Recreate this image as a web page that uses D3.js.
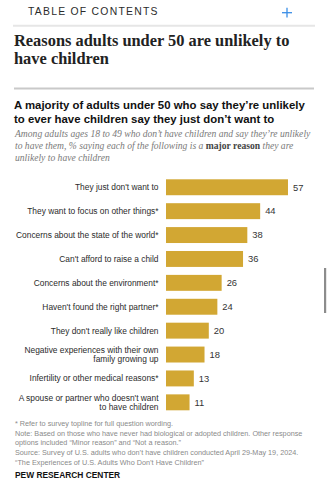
<!DOCTYPE html>
<html>
<head>
<meta charset="utf-8">
<script src="https://cdn.jsdelivr.net/npm/d3@7"></script>
<style>
  html, body { margin: 0; padding: 0; background: #fff; }
  svg { display: block; }
</style>
</head>
<body>
<svg id="chart"></svg>
<script>
// Reasons, top to bottom (line breaks where the label wraps)
const reasons = [
  "They just don't want to",
  "They want to focus on other things*",
  "Concerns about the state of the world*",
  "Can't afford to raise a child",
  "Concerns about the environment*",
  "Haven't found the right partner*",
  "They don't really like children",
  "Negative experiences with their own\nfamily growing up",
  "Infertility or other medical reasons*",
  "A spouse or partner who doesn't want\nto have children"
];

// % saying each is a major reason
const majorReason = [57, 44, 38, 36, 26, 24, 20, 18, 13, 11];

const titleLines = ["Reasons adults under 50 are unlikely to", "have children"];
const chartTitle = [
  "A majority of adults under 50 who say they\u2019re unlikely",
  "to ever have children say they just don\u2019t want to"
];
const footLines = [
  "* Refer to survey topline for full question wording.",
  "Note: Based on those who have never had biological or adopted children. Other response",
  "options included \u201cMinor reason\u201d and \u201cNot a reason.\u201d",
  "Source: Survey of U.S. adults who don\u2019t have children conducted April 29-May 19, 2024.",
  "\u201cThe Experiences of U.S. Adults Who Don\u2019t Have Children\u201d"
];

const W = 329, H = 485;
const GOLD = '#d2a733';
const SANS = "'Liberation Sans', Arial, sans-serif";
const SERIF = "'Liberation Serif', 'DejaVu Serif', serif";

const svg = d3.select('#chart').attr('width', W).attr('height', H);
svg.append('rect').attr('width', W).attr('height', H).attr('fill', '#fff');

// Page header: table of contents bar
svg.append('text')
  .attr('x', 28).attr('y', 15.2)
  .attr('font-family', SANS).attr('font-size', 10.4)
  .attr('letter-spacing', 1.25).attr('fill', '#2b2b2b')
  .text('TABLE OF CONTENTS');

const plus = svg.append('g').attr('stroke', '#3a8ee6').attr('stroke-width', 1.3);
plus.append('line').attr('x1', 282).attr('x2', 292).attr('y1', 12.7).attr('y2', 12.7);
plus.append('line').attr('x1', 287).attr('x2', 287).attr('y1', 7.8).attr('y2', 17.6);

svg.append('line').attr('x1', 13).attr('x2', 315).attr('y1', 25.8).attr('y2', 25.8)
  .attr('stroke', '#e6e6e6').attr('stroke-width', 2);

// Section title
svg.append('g').selectAll('text').data(titleLines).join('text')
  .attr('x', 14).attr('y', (d, i) => 46.3 + i * 18)
  .attr('font-family', SERIF).attr('font-size', 16.4).attr('font-weight', 'bold')
  .attr('fill', '#222')
  .text(d => d);

svg.append('line').attr('x1', 14).attr('x2', 314).attr('y1', 88.4).attr('y2', 88.4)
  .attr('stroke', '#c9c9c9').attr('stroke-width', 2);

// Chart title and subtitle
svg.append('g').selectAll('text').data(chartTitle).join('text')
  .attr('x', 14).attr('y', (d, i) => 109.3 + i * 13.4)
  .attr('font-family', SANS).attr('font-size', 11.4).attr('font-weight', 'bold')
  .attr('fill', '#111')
  .text(d => d);

const sub = svg.append('text')
  .attr('font-family', SERIF).attr('font-size', 9.6).attr('font-style', 'italic')
  .attr('fill', '#7a7a7a');
sub.append('tspan').attr('x', 15).attr('y', 137.3)
  .text('Among adults ages 18 to 49 who don\u2019t have children and say they\u2019re unlikely');
const sub2 = sub.append('tspan').attr('x', 15).attr('y', 149.4);
sub2.append('tspan').text('to have them, % saying each of the following is a ');
sub2.append('tspan').attr('font-weight', 'bold').attr('font-style', 'normal').attr('fill', '#444').text('major reason');
sub2.append('tspan').text(' they are');
sub.append('tspan').attr('x', 15).attr('y', 161.2).text('unlikely to have children');

// Bars
const x = d3.scaleLinear().domain([0, 100]).range([166, 380]);
const y = d3.scaleBand().domain(reasons).range([179.3, 410.3]).paddingInner(1 / 3).paddingOuter(0);

const rows = svg.append('g').selectAll('g')
  .data(reasons.map((r, i) => ({ reason: r, value: majorReason[i] })))
  .join('g');

rows.append('rect')
  .attr('x', x(0))
  .attr('y', d => y(d.reason))
  .attr('width', d => x(d.value) - x(0))
  .attr('height', y.bandwidth())
  .attr('fill', GOLD);

rows.append('text')
  .attr('x', d => x(d.value) + 5)
  .attr('y', d => y(d.reason) + y.bandwidth() / 2)
  .attr('dy', '0.35em')
  .attr('font-family', SANS).attr('font-size', 9.4).attr('fill', '#333')
  .text(d => d.value);

// Category labels, right aligned against the bars
rows.each(function (d) {
  const lines = d.reason.split('\n');
  const cy = y(d.reason) + y.bandwidth() / 2;
  const lh = 9.4;
  d3.select(this).append('text')
    .attr('text-anchor', 'end')
    .attr('font-family', SANS).attr('font-size', 8.4).attr('fill', '#2b2b2b')
    .selectAll('tspan').data(lines).join('tspan')
    .attr('x', 158.5)
    .attr('y', (l, i) => cy + (i - (lines.length - 1) / 2) * lh)
    .attr('dy', '0.35em')
    .text(l => l);
});

// Notes and source
svg.append('g').selectAll('text').data(footLines).join('text')
  .attr('x', 15).attr('y', (d, i) => 426.3 + i * 9.55)
  .attr('font-family', SANS).attr('font-size', 7.25).attr('fill', '#8a8a8a')
  .text(d => d);

svg.append('text')
  .attr('x', 15).attr('y', 477.8)
  .attr('font-family', SANS).attr('font-size', 8.4).attr('font-weight', 'bold')
  .attr('fill', '#111')
  .text('PEW RESEARCH CENTER');

// Browser scrollbar thumb
svg.append('rect').attr('x', 324).attr('y', 268).attr('width', 2.2).attr('height', 45)
  .attr('fill', '#8c8c8c');
</script>
</body>
</html>
